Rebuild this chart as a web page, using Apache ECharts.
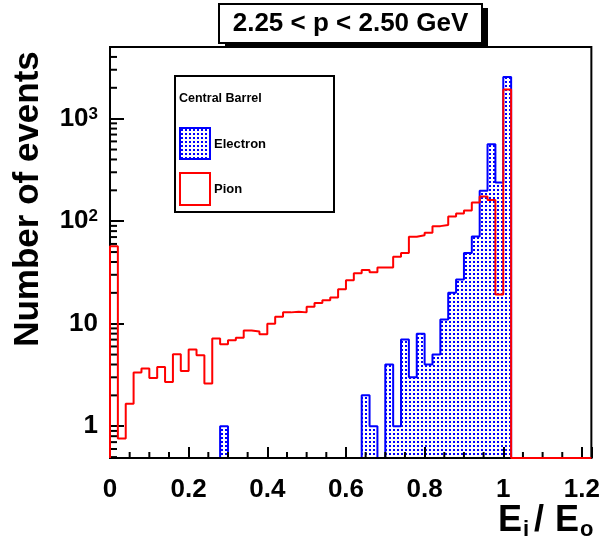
<!DOCTYPE html>
<html>
<head>
<meta charset="utf-8">
<script src="https://cdn.jsdelivr.net/npm/echarts@6.0.0/dist/echarts.min.js"></script>
<style>
  html, body { margin: 0; padding: 0; background: #fff; }
  #main { width: 603px; height: 543px; }
</style>
</head>
<body>
<div id="main"></div>
<script>
// histogram: 0.02 wide bins starting at 0, E_i/E_o
var binWidth = 0.02;
var nBins = 61; // up to 1.22
var electronCounts = [
    0, 0, 0, 0, 0, 0, 0, 0, 0, 0,
    0, 0, 0, 0, 1, 0, 0, 0, 0, 0,
    0, 0, 0, 0, 0, 0, 0, 0, 0, 0,
    0, 0, 2, 1, 0, 4, 1, 7, 3, 8,
    4, 5, 11, 20, 27, 49, 71, 198, 564, 239,
    2550
];
var pionCounts = [
    57, 0.76, 1.66, 3.34, 3.65, 2.96, 3.79, 2.7, 5.04, 3.46,
    5.6, 4.93, 2.61, 7.17, 6.3, 6.9, 7.3, 8.6, 8.4, 7.9,
    10.0, 11.7, 12.9, 13.1, 12.9, 14.6, 15.9, 16.9, 18.0, 21.7,
    26.6, 31, 33.5, 31.8, 35.3, 35.3, 45, 49, 70.5, 73,
    77, 89.5, 92, 111, 119, 127, 152, 174, 161, 19.3,
    1930
];

var X_MAX = 1.224;
var Y_MIN = 0.49;
var Y_MAX = 5000;
var FONT = '"Liberation Sans", Arial, sans-serif';

function toSteps(counts) {
    var pts = [[0, Y_MIN]];
    for (var i = 0; i < nBins; i++) {
        var c = counts[i] || 0;
        pts.push([i * binWidth, c > 0 ? c : Y_MIN]);
    }
    pts.push([X_MAX, Y_MIN]);
    return pts;
}

// minor ticks (ROOT style)
var yMinor = [];
for (var k = -1; k <= 3; k++) {
    for (var m = 2; m <= 9; m++) {
        var v = m * Math.pow(10, k);
        if (v > Y_MIN && v < Y_MAX * 1.001) yMinor.push([0, v]);
    }
}
var xMinor = [];
for (var j = 1; j <= 24; j++) {
    if (j % 4 !== 0) xMinor.push([j * 0.05, Y_MIN]);
}

// dotted fill like ROOT fill style 3001
var pat = document.createElement('canvas');
pat.width = 4;
pat.height = 4;
var pctx = pat.getContext('2d');
pctx.fillStyle = 'rgb(255,255,255)';
pctx.fillRect(0, 0, 4, 4);
pctx.fillStyle = 'rgb(0,0,255)';
pctx.fillRect(1, 1, 2, 2);
var dotFill = { image: pat, repeat: 'repeat' };

var chartDom = document.getElementById('main');
var myChart = echarts.init(chartDom, null, { renderer: 'canvas' });

function txt(x, y, s, size, extra) {
    var st = { text: s, font: 'bold ' + size + 'px ' + FONT, fill: '#000' };
    for (var key in extra) st[key] = extra[key];
    return { type: 'text', z: 11, x: x, y: y, style: st };
}

var option = {
    animation: false,
    backgroundColor: '#fff',
    grid: {
        left: 110, right: 10, top: 47, bottom: 85,
        show: true, borderColor: '#000', borderWidth: 2, backgroundColor: 'transparent'
    },
    xAxis: {
        type: 'value',
        min: 0,
        max: X_MAX,
        interval: 0.2,
        z: 3,
        axisLine: { show: true, lineStyle: { color: '#000', width: 2 } },
        axisTick: { show: true, inside: true, length: 11, lineStyle: { color: '#000', width: 2 } },
        splitLine: { show: false },
        axisLabel: {
            margin: 19,
            color: '#000',
            fontFamily: FONT,
            fontWeight: 'bold',
            fontSize: 26,
            formatter: function (v) {
                var q = v / 0.2;
                if (Math.abs(q - Math.round(q)) > 1e-6) return '';
                return String(+v.toFixed(1));
            }
        }
    },
    yAxis: {
        type: 'log',
        logBase: 10,
        min: Y_MIN,
        max: Y_MAX,
        z: 3,
        axisLine: { show: true, lineStyle: { color: '#000', width: 2 } },
        axisTick: { show: true, inside: true, length: 14, lineStyle: { color: '#000', width: 2 } },
        splitLine: { show: false },
        axisLabel: {
            margin: 12,
            color: '#000',
            formatter: function (v) {
                var e = Math.log10(v), r = Math.round(e);
                if (Math.abs(e - r) > 1e-6) return '';
                if (r === 0) return '{b|1}';
                if (r === 1) return '{b|10}';
                return '{b|10}{s|' + r + '}';
            },
            rich: {
                b: { fontFamily: FONT, fontWeight: 'bold', fontSize: 26, color: '#000' },
                s: { fontFamily: FONT, fontWeight: 'bold', fontSize: 17, color: '#000', verticalAlign: 'top' }
            }
        }
    },
    graphic: [
        // title pave with shadow
        { type: 'rect', z: 10, shape: { x: 225, y: 8, width: 263, height: 38 }, style: { fill: '#000' } },
        { type: 'rect', z: 11, shape: { x: 219, y: 4, width: 263, height: 39 }, style: { fill: '#fff', stroke: '#000', lineWidth: 2 } },
        txt(350.5, 24, '2.25 < p < 2.50 GeV', 26, { align: 'center', verticalAlign: 'middle', textAlign: 'center', textVerticalAlign: 'middle' }),
        // legend
        { type: 'rect', z: 10, shape: { x: 175, y: 76, width: 159, height: 136 }, style: { fill: '#fff', stroke: '#000', lineWidth: 2 } },
        txt(179, 99, 'Central Barrel', 12.5, { verticalAlign: 'middle', textVerticalAlign: 'middle' }),
        { type: 'rect', z: 11, shape: { x: 180, y: 128, width: 30, height: 31 }, style: { fill: dotFill, stroke: '#0000ff', lineWidth: 2 } },
        txt(214, 144, 'Electron', 13, { verticalAlign: 'middle', textVerticalAlign: 'middle' }),
        { type: 'rect', z: 11, shape: { x: 180, y: 173, width: 30, height: 32 }, style: { fill: '#fff', stroke: '#ff0000', lineWidth: 2 } },
        txt(214, 189, 'Pion', 13, { verticalAlign: 'middle', textVerticalAlign: 'middle' }),
        // axis titles
        {
            type: 'text', z: 11, x: 28, y: 199, rotation: Math.PI / 2,
            style: { text: 'Number of events', font: 'bold 35px ' + FONT, fill: '#000',
                     align: 'center', verticalAlign: 'middle', textAlign: 'center', textVerticalAlign: 'middle' }
        },
        txt(498, 539, 'E', 36, { verticalAlign: 'bottom', textVerticalAlign: 'bottom' }),
        txt(523, 541, 'i', 22, { verticalAlign: 'bottom', textVerticalAlign: 'bottom' }),
        txt(534, 539, '/', 36, { verticalAlign: 'bottom', textVerticalAlign: 'bottom' }),
        txt(555, 539, 'E', 36, { verticalAlign: 'bottom', textVerticalAlign: 'bottom' }),
        txt(580, 541, 'o', 22, { verticalAlign: 'bottom', textVerticalAlign: 'bottom' })
    ],
    series: [
        {
            name: 'Electron',
            type: 'line',
            step: 'end',
            z: 2,
            showSymbol: false,
            symbol: 'none',
            data: toSteps(electronCounts),
            lineStyle: { color: '#0000ff', width: 2 },
            areaStyle: { color: dotFill, opacity: 1, origin: 'start' }
        },
        {
            name: 'Pion',
            type: 'line',
            step: 'end',
            z: 5,
            showSymbol: false,
            symbol: 'none',
            data: toSteps(pionCounts),
            lineStyle: { color: '#ff0000', width: 2 }
        },
        {
            name: 'yMinorTicks',
            type: 'custom',
            z: 4,
            clip: false,
            silent: true,
            data: yMinor,
            renderItem: function (params, api) {
                var p = api.coord([api.value(0), api.value(1)]);
                return { type: 'line', shape: { x1: p[0], y1: p[1], x2: p[0] + 7, y2: p[1] },
                         style: { stroke: '#000', lineWidth: 2 } };
            }
        },
        {
            name: 'xMinorTicks',
            type: 'custom',
            z: 4,
            clip: false,
            silent: true,
            data: xMinor,
            renderItem: function (params, api) {
                var p = api.coord([api.value(0), api.value(1)]);
                return { type: 'line', shape: { x1: p[0], y1: p[1], x2: p[0], y2: p[1] - 6 },
                         style: { stroke: '#000', lineWidth: 2 } };
            }
        }
    ]
};

option && myChart.setOption(option);
</script>
</body>
</html>
